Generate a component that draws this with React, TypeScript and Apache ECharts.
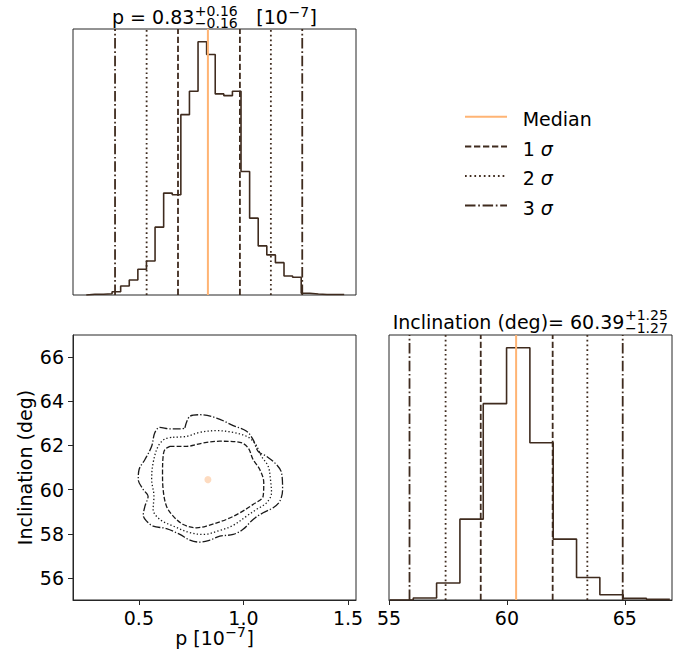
import React, { useEffect, useRef } from "react";
import * as echarts from "echarts";

const FONT = "DejaVu Sans";
const DARK = "#3f2b1e";
const ORANGE = "#ffb474";
const FRAME = "#262626";
const CONTOUR = "#1a1a1a";

// ---- p histogram (top-left) ----
const pBinStart = 0.2485;
const pBinWidth = 0.0411;
const pCounts = [
  0.7, 0.7, 1.3, 3.3, 9, 15, 25.7, 34, 67.7, 101.7, 100, 180, 203.3, 252.7, 240,
  200.7, 199, 203.3, 123.3, 76.7, 49, 40, 32.3, 19, 17.7, 1.7, 1, 0.5, 0.5, 0.5,
];
const pMedian = 0.83;
const pSigmaLo = [0.687, 0.537, 0.386];
const pSigmaHi = [0.983, 1.131, 1.281];
const pRange = [0.185, 1.538];
const pTicks = [0.5, 1.0, 1.5];

// ---- inclination histogram (bottom-right) ----
const incBinStart = 55.04;
const incBinWidth = 0.989;
const incCounts = [0.3, 2, 17, 81, 196.7, 252.7, 157.6, 61, 22.6, 5.3, 1.6, 0.6];
const incMedian = 60.39;
const incSigmaLo = [58.89, 57.4, 55.87];
const incSigmaHi = [61.94, 63.41, 64.91];
const incRange = [55, 67];
const incTicksHist = [55, 60, 65];
const incTicks2D = [56, 58, 60, 62, 64, 66];

const histMax = 265.5;

// ---- 2D contours (p, inclination) ----
const contour1Sigma = [
  [0.648, 61.96], [0.728, 61.96], [0.807, 62.11], [0.887, 62.19], [0.983, 62.14],
  [1.022, 61.89], [1.046, 61.36], [1.078, 60.91], [1.097, 60.31], [1.094, 59.7],
  [1.046, 59.33], [0.983, 58.95], [0.919, 58.65], [0.823, 58.35], [0.776, 58.27],
  [0.712, 58.42], [0.664, 58.8], [0.632, 59.25], [0.616, 60.0], [0.613, 60.76],
  [0.616, 61.51], [0.624, 61.81],
];
const contour2Sigma = [
  [0.664, 62.37], [0.728, 62.41], [0.791, 62.59], [0.871, 62.67], [0.951, 62.59],
  [1.015, 62.41], [1.054, 62.11], [1.086, 61.51], [1.118, 61.06], [1.129, 60.46],
  [1.134, 59.85], [1.11, 59.4], [1.062, 59.1], [1.015, 58.8], [0.951, 58.38],
  [0.887, 58.15], [0.807, 57.97], [0.744, 58.05], [0.664, 58.35], [0.6, 58.65],
  [0.568, 59.1], [0.572, 59.7], [0.561, 60.46], [0.568, 61.21], [0.592, 61.96],
  [0.624, 62.29],
];
const contour3Sigma = [
  [0.72, 62.79], [0.744, 63.32], [0.791, 63.39], [0.871, 63.24], [0.951, 62.9],
  [1.015, 62.64], [1.046, 62.26], [1.07, 61.73], [1.11, 61.51], [1.158, 61.13],
  [1.182, 60.76], [1.187, 60.0], [1.174, 59.48], [1.142, 59.18], [1.094, 58.95],
  [1.046, 58.65], [0.998, 58.2], [0.951, 57.97], [0.887, 57.89], [0.839, 57.71],
  [0.791, 57.62], [0.744, 57.71], [0.696, 57.97], [0.632, 58.23], [0.568, 58.35],
  [0.537, 58.57], [0.521, 58.83], [0.529, 59.25], [0.544, 59.7], [0.521, 60.0],
  [0.497, 60.46], [0.501, 60.91], [0.529, 61.36], [0.561, 61.96], [0.576, 62.57],
  [0.6, 62.82], [0.648, 62.75], [0.704, 62.75],
];
const median2D = [0.83, 60.45];

const legendLabels = ["Median", "1 {i|σ}", "2 {i|σ}", "3 {i|σ}"];

const DASH = [6.3, 2.7];
const DOT = [1.7, 3];
const DASHDOT = [10.5, 2.7, 1.7, 2.7];
const sigmaStyles = [DASH, DOT, DASHDOT];

function stepPoints(start: number, width: number, counts: number[]) {
  const pts: number[][] = [[start, 0]];
  counts.forEach((c, i) => {
    pts.push([start + i * width, c]);
    pts.push([start + (i + 1) * width, c]);
  });
  pts.push([start + counts.length * width, 0]);
  return pts;
}

function closed(pts: number[][]) {
  return [...pts, pts[0]];
}

const measureCtx = (() => {
  const c = document.createElement("canvas");
  return c.getContext("2d")!;
})();
function textW(s: string, size: number) {
  measureCtx.font = `${size}px "${FONT}"`;
  return measureCtx.measureText(s).width;
}

function txtAt(x: number, yMid: number, text: string, size: number, lineHeight: number) {
  return {
    type: "text",
    x,
    y: yMid,
    silent: true,
    style: {
      text,
      fontSize: size,
      fontFamily: FONT,
      fill: "#000",
      lineHeight,
      align: "left",
      verticalAlign: "middle",
      textAlign: "left",
      textVerticalAlign: "middle",
    },
  };
}

type Seg = { t?: string; sup?: string; sub?: string };
function mathText(segs: Seg[], cx: number, baseline: number) {
  const main = 19;
  const script = 14;
  const widths = segs.map((s) =>
    s.t !== undefined
      ? textW(s.t, main)
      : Math.max(s.sup ? textW(s.sup, script) : 0, s.sub ? textW(s.sub, script) : 0) + 1
  );
  const total = widths.reduce((a, b) => a + b, 0);
  let x = cx - total / 2;
  const els: any[] = [];
  segs.forEach((s, i) => {
    if (s.t !== undefined) {
      els.push(txtAt(x, baseline - 0.297 * main, s.t, main, 17));
    } else if (s.sup && s.sub) {
      // stacked super/subscript as one two-line text
      els.push(txtAt(x + 0.5, baseline - 5.8, s.sup + "\n" + s.sub, script, 12.1));
    } else if (s.sup) {
      els.push(txtAt(x + 0.5, baseline - 7 - 0.297 * script, s.sup, script, 10));
    }
    x += widths[i];
  });
  return els;
}

function vline(v: number, xi: number, type: any, color: string, width: number) {
  return {
    type: "line",
    xAxisIndex: xi,
    yAxisIndex: xi,
    data: [
      [v, 0],
      [v, histMax],
    ],
    symbol: "none",
    silent: true,
    lineStyle: { color, width, type },
    z: 3,
  };
}

export default function App() {
  const ref = useRef<HTMLDivElement>(null);
  useEffect(() => {
    document.body.style.margin = "0";
    const chart = echarts.init(ref.current!, undefined, { renderer: "svg" });

    const hidden = {
      axisLine: { show: false },
      axisTick: { show: false },
      axisLabel: { show: false },
      splitLine: { show: false },
    };
    const labelStyle = { fontSize: 19, fontFamily: FONT, color: "#000", lineHeight: 14 };

    const series: any[] = [];
    // p histogram
    series.push({
      type: "line",
      xAxisIndex: 0,
      yAxisIndex: 0,
      data: stepPoints(pBinStart, pBinWidth, pCounts),
      symbol: "none",
      silent: true,
      lineStyle: { color: DARK, width: 1.6 },
      z: 2,
    });
    [0, 1, 2].forEach((k) => {
      series.push(vline(pSigmaLo[k], 0, sigmaStyles[k], DARK, 1.8));
      series.push(vline(pSigmaHi[k], 0, sigmaStyles[k], DARK, 1.8));
    });
    series.push(vline(pMedian, 0, "solid", ORANGE, 2));

    // inclination histogram
    series.push({
      type: "line",
      xAxisIndex: 2,
      yAxisIndex: 2,
      data: stepPoints(incBinStart, incBinWidth, incCounts),
      symbol: "none",
      silent: true,
      lineStyle: { color: DARK, width: 1.6 },
      z: 2,
    });
    [0, 1, 2].forEach((k) => {
      series.push(vline(incSigmaLo[k], 2, sigmaStyles[k], DARK, 1.8));
      series.push(vline(incSigmaHi[k], 2, sigmaStyles[k], DARK, 1.8));
    });
    series.push(vline(incMedian, 2, "solid", ORANGE, 2));

    // contours
    const contourStyles = [
      [4.8, 2],
      [1.3, 2.2],
      [8, 2, 1.3, 2],
    ];
    [contour1Sigma, contour2Sigma, contour3Sigma].forEach((c, k) => {
      series.push({
        type: "line",
        xAxisIndex: 1,
        yAxisIndex: 1,
        data: closed(c),
        symbol: "none",
        smooth: 0.35,
        silent: true,
        lineStyle: { color: CONTOUR, width: 1.3, type: contourStyles[k] },
      });
    });
    series.push({
      type: "scatter",
      xAxisIndex: 1,
      yAxisIndex: 1,
      data: [median2D],
      symbolSize: 7,
      silent: true,
      itemStyle: { color: "#fdd2b0" },
    });

    const graphic: any[] = [];
    graphic.push(
      ...mathText(
        [{ t: "p = 0.83" }, { sup: "+0.16", sub: "−0.16" }, { t: "   [10" }, { sup: "−7" }, { t: "]" }],
        214.5,
        23
      )
    );
    graphic.push(
      ...mathText(
        [{ t: "Inclination (deg)= 60.39" }, { sup: "+1.25", sub: "−1.27" }],
        530.5,
        327.3
      )
    );
    graphic.push(...mathText([{ t: "p [10" }, { sup: "−7" }, { t: "]" }], 214.5, 643.3));
    graphic.push({
      type: "text",
      x: 25,
      y: 467.5,
      rotation: Math.PI / 2,
      silent: true,
      style: {
        text: "Inclination (deg)",
        fontSize: 19,
        fontFamily: FONT,
        fill: "#000",
        align: "center",
        verticalAlign: "middle",
        textAlign: "center",
        textVerticalAlign: "middle",
      },
    });

    // legend
    const legendY = [116.8, 146.4, 176, 205.6];
    const legendStyles: any[] = [null, DASH, DOT, DASHDOT];
    legendLabels.forEach((lab, i) => {
      graphic.push({
        type: "line",
        silent: true,
        shape: { x1: 465, y1: legendY[i], x2: 507, y2: legendY[i] },
        style: {
          stroke: i === 0 ? ORANGE : DARK,
          lineWidth: 2,
          lineDash: legendStyles[i] || undefined,
        },
      });
      graphic.push({
        type: "text",
        x: 522.7,
        y: legendY[i] + 2.4,
        silent: true,
        style: {
          text: lab,
          fontSize: 19,
          fontFamily: FONT,
          fill: "#000",
          align: "left",
          verticalAlign: "middle",
          textAlign: "left",
          textVerticalAlign: "middle",
          rich: { i: { fontStyle: "italic", fontSize: 19, fontFamily: FONT, fill: "#000" } },
        },
      });
    });

    const gridBase = {
      show: true,
      borderColor: FRAME,
      borderWidth: 1,
      backgroundColor: "transparent",
      containLabel: false,
      outerBoundsMode: "none",
    };

    chart.setOption({
      animation: false,
      grid: [
        { ...gridBase, left: 73, top: 29, width: 283, height: 266 },
        { ...gridBase, left: 73, top: 335, width: 283, height: 265 },
        { ...gridBase, left: 389, top: 335, width: 283, height: 265 },
      ],
      xAxis: [
        { gridIndex: 0, type: "value", min: pRange[0], max: pRange[1], ...hidden },
        {
          gridIndex: 1,
          type: "value",
          min: pRange[0],
          max: pRange[1],
          axisLine: { show: true, lineStyle: { color: FRAME, width: 1 } },
          axisTick: { show: true, customValues: pTicks, length: 5, lineStyle: { color: FRAME, width: 1 } },
          axisLabel: {
            show: true,
            customValues: pTicks,
            formatter: (v: number) => v.toFixed(1),
            margin: 10.5,
            ...labelStyle,
          },
          splitLine: { show: false },
        },
        {
          gridIndex: 2,
          type: "value",
          min: incRange[0],
          max: incRange[1],
          axisLine: { show: true, lineStyle: { color: FRAME, width: 1 } },
          axisTick: { show: true, customValues: incTicksHist, length: 5, lineStyle: { color: FRAME, width: 1 } },
          axisLabel: {
            show: true,
            customValues: incTicksHist,
            formatter: (v: number) => String(Math.round(v)),
            margin: 10.5,
            ...labelStyle,
          },
          splitLine: { show: false },
        },
      ],
      yAxis: [
        { gridIndex: 0, type: "value", min: 0, max: histMax, ...hidden },
        {
          gridIndex: 1,
          type: "value",
          min: incRange[0],
          max: incRange[1],
          axisLine: { show: true, lineStyle: { color: FRAME, width: 1 } },
          axisTick: { show: true, customValues: incTicks2D, length: 5, lineStyle: { color: FRAME, width: 1 } },
          axisLabel: {
            show: true,
            customValues: incTicks2D,
            formatter: (v: number) => String(Math.round(v)),
            margin: 9,
            ...labelStyle,
          },
          splitLine: { show: false },
        },
        { gridIndex: 2, type: "value", min: 0, max: histMax, ...hidden },
      ],
      series,
      graphic,
    });
    return () => chart.dispose();
  }, []);
  return <div ref={ref} style={{ width: 697, height: 662 }} />;
}
